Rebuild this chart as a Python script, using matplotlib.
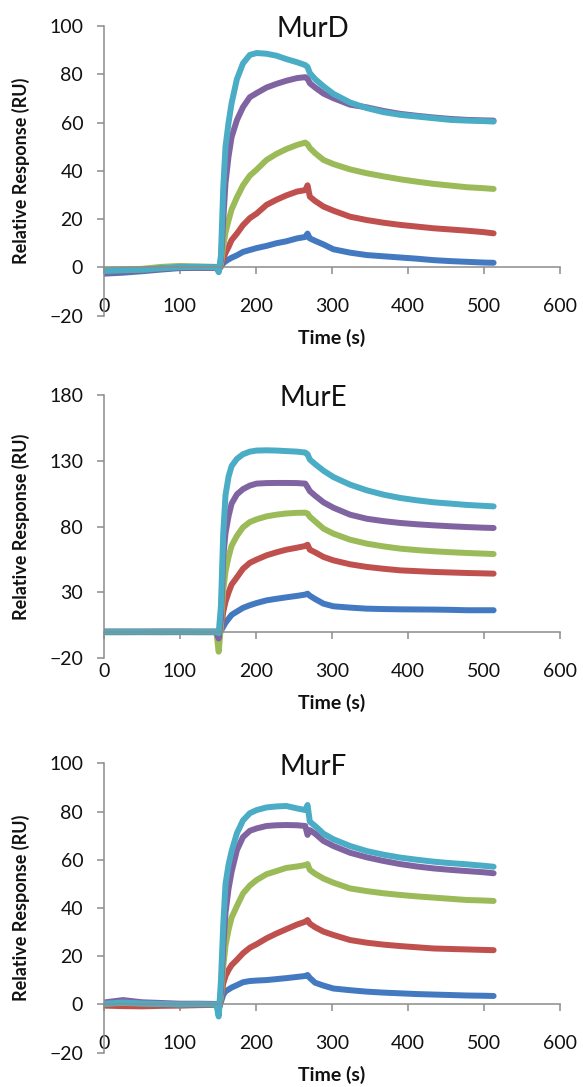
import matplotlib
matplotlib.use("Agg")
import matplotlib.pyplot as plt

plt.rcParams['font.family'] = ['Lato', 'DejaVu Sans']

# time grid (s) on which the sensorgrams were read
time_s = [0, 25, 50, 75, 100, 125, 148, 151,
          154, 157, 160, 164, 168, 175, 183, 192, 201, 214, 227, 240, 254, 265,
          268, 271, 278, 289, 302, 324, 346, 368, 390, 412, 434, 456, 478, 500, 513]

# MurD
murd_blue = [-2.6, -2.2, -1.6, -0.9, -0.3, -0.2, -0.3, -1.0,
             0.3, 1.7, 2.5, 3.3, 4.0, 5.0, 6.4, 7.2, 8.0, 8.9, 10.0, 10.8, 12.0, 12.6,
             14.0, 12.0, 11.0, 9.5, 7.5, 6.1, 5.1, 4.6, 4.1, 3.6, 3.0, 2.6, 2.3, 2.0, 1.9]
murd_red = [-2.0, -1.6, -1.2, -0.6, 0.0, 0.0, -0.2, -1.0,
            0.8, 3.7, 6.0, 8.5, 11.3, 14.0, 17.5, 20.4, 22.3, 25.9, 28.0, 29.8, 31.4, 32.0,
            34.0, 29.3, 27.5, 25.2, 23.5, 21.0, 19.6, 18.5, 17.6, 16.9, 16.2, 15.7, 15.2, 14.6, 14.1]
murd_green = [-1.0, -0.8, -0.6, 0.2, 0.6, 0.4, 0.2, -1.0,
              1.5, 8.6, 14.5, 19.5, 24.0, 29.0, 34.0, 38.0, 40.5, 44.5, 47.0, 49.0, 50.7, 51.7,
              51.0, 49.5, 47.3, 44.5, 42.8, 40.6, 39.0, 37.7, 36.5, 35.5, 34.6, 33.9, 33.2, 32.8, 32.5]
murd_purple = [-1.8, -1.4, -1.1, -0.5, 0.0, 0.1, 0.0, -1.5,
               3.0, 19.6, 35.0, 46.0, 54.0, 61.0, 66.4, 70.5, 72.2, 74.5, 76.0, 77.3, 78.4, 78.8,
               78.2, 76.3, 74.5, 72.0, 70.1, 67.4, 66.3, 64.8, 63.6, 62.8, 62.1, 61.5, 61.1, 60.9, 60.8]
murd_cyan = [-1.5, -1.2, -1.0, -0.4, 0.1, 0.2, 0.0, -2.0,
             5.0, 33.0, 50.0, 60.0, 68.0, 78.0, 84.5, 88.0, 88.8, 88.5, 87.7, 86.3, 85.0, 83.8,
             83.0, 80.5, 78.0, 75.0, 71.9, 68.3, 66.0, 64.3, 63.2, 62.5, 61.8, 61.1, 60.8, 60.6, 60.4]

# MurE
mure_blue = [0.0, 0.0, 0.0, 0.0, 0.0, 0.0, 0.0, -1.0,
             1.0, 4.0, 7.0, 10.0, 13.0, 15.5, 18.3, 20.3, 22.0, 24.0, 25.2, 26.3, 27.4, 28.4,
             29.1, 27.5, 25.0, 21.5, 19.5, 18.5, 17.7, 17.4, 17.2, 17.1, 17.0, 16.8, 16.5, 16.5, 16.5]
mure_red = [0.3, 0.3, 0.3, 0.4, 0.4, 0.3, 0.3, -2.0,
            2.0, 15.2, 23.0, 30.0, 36.0, 41.5, 48.0, 52.5, 55.0, 58.2, 60.5, 62.5, 64.0, 65.3,
            66.3, 62.5, 60.5, 57.0, 54.4, 51.4, 49.4, 48.0, 46.8, 46.2, 45.6, 45.2, 44.8, 44.5, 44.3]
mure_green = [-0.3, -0.3, -0.2, -0.3, -0.2, -0.3, -0.3, -15.0,
              5.0, 31.6, 46.0, 57.0, 65.5, 73.0, 79.5, 83.5, 85.6, 87.8, 89.1, 90.0, 90.5, 90.6,
              90.0, 87.5, 84.0, 78.5, 74.7, 70.1, 67.1, 65.0, 63.3, 62.2, 61.3, 60.6, 60.0, 59.5, 59.2]
mure_purple = [0.0, 0.0, 0.0, 0.0, 0.0, 0.0, 0.0, -5.0,
               10.0, 57.0, 75.0, 88.0, 97.5, 104.5, 108.5, 111.2, 112.7, 113.1, 113.2, 113.2, 113.1, 112.7,
               110.0, 107.0, 103.5, 98.5, 94.4, 89.1, 86.0, 84.2, 82.8, 81.8, 81.0, 80.3, 79.7, 79.2, 79.0]
mure_cyan = [0.2, 0.2, 0.2, 0.2, 0.2, 0.2, 0.2, -1.0,
             20.0, 75.0, 104.0, 118.0, 126.0, 131.5, 135.0, 137.0, 137.8, 138.0, 137.8, 137.4, 137.0, 136.3,
             135.0, 131.0, 127.5, 122.5, 117.7, 111.9, 107.6, 104.3, 101.8, 100.0, 98.5, 97.5, 96.5, 95.8, 95.4]

# MurF
murf_blue = [0.2, 0.5, 0.2, 0.0, 0.0, -0.1, 0.0, -2.0,
             1.0, 4.0, 5.4, 6.2, 7.0, 8.0, 9.2, 9.7, 9.9, 10.1, 10.5, 10.9, 11.4, 11.8,
             12.2, 11.0, 9.0, 7.8, 6.6, 5.9, 5.3, 4.9, 4.6, 4.3, 4.1, 3.9, 3.7, 3.6, 3.5]
murf_red = [-0.5, -0.7, -0.8, -0.6, -0.5, -0.3, -0.2, -2.0,
            2.0, 8.7, 11.8, 14.3, 16.3, 18.5, 21.2, 23.5, 25.0, 27.4, 29.4, 31.2, 33.1, 34.3,
            35.0, 33.5, 32.0, 30.2, 28.8, 26.7, 25.6, 24.8, 24.2, 23.7, 23.2, 23.0, 22.8, 22.6, 22.5]
murf_green = [0.3, 0.6, 0.4, 0.2, 0.1, 0.2, 0.1, -2.0,
              3.0, 15.6, 24.5, 31.0, 36.0, 40.8, 46.0, 49.3, 51.6, 54.0, 55.3, 56.6, 57.2, 57.8,
              58.2, 55.8, 54.2, 52.2, 50.5, 48.1, 47.0, 46.1, 45.4, 44.8, 44.3, 43.8, 43.3, 43.1, 42.9]
murf_purple = [0.8, 1.8, 0.9, 0.6, 0.3, 0.3, 0.2, -2.5,
               5.0, 24.0, 38.0, 48.0, 55.0, 64.0, 69.4, 72.0, 73.0, 74.0, 74.3, 74.4, 74.3, 74.0,
               70.3, 72.3, 70.8, 67.8, 65.7, 62.9, 61.0, 59.5, 58.2, 57.2, 56.4, 55.8, 55.3, 54.8, 54.4]
murf_cyan = [0.3, 0.8, 0.4, 0.2, 0.0, 0.1, 0.0, -5.0,
             10.0, 33.0, 50.0, 58.0, 63.5, 71.0, 76.3, 79.3, 80.6, 81.7, 82.1, 82.3, 81.3, 80.6,
             82.7, 75.8, 74.0, 70.8, 68.5, 65.7, 63.6, 62.1, 60.9, 60.0, 59.2, 58.6, 58.1, 57.5, 57.1]

colors = ["#4379C0", "#C0504D", "#9BBB59", "#8064A2", "#4BACC6"]
gray = "#8C8C8C"

panels = [
    ("MurD", [murd_blue, murd_red, murd_green, murd_purple, murd_cyan], (-20, 100), [-20, 0, 20, 40, 60, 80, 100]),
    ("MurE", [mure_blue, mure_red, mure_green, mure_purple, mure_cyan], (-20, 180), [-20, 30, 80, 130, 180]),
    ("MurF", [murf_blue, murf_red, murf_green, murf_purple, murf_cyan], (-20, 100), [-20, 0, 20, 40, 60, 80, 100]),
]

# axes boxes in figure fraction: left, bottom, width, height
boxes = [
    [0.1784, 0.7096, 0.7816, 0.2665],
    [0.1784, 0.3944, 0.7816, 0.2422],
    [0.1784, 0.0316, 0.7816, 0.2662],
]

fig = plt.figure(figsize=(5.83, 10.87), dpi=100)

for (name, series, ylim, yticks), box in zip(panels, boxes):
    ax = fig.add_axes(box)
    for vals, col in zip(series, colors):
        ax.plot(time_s, vals, color=col, lw=4.3, solid_capstyle='round', solid_joinstyle='round')
    ax.set_xlim(0, 600)
    ax.set_ylim(*ylim)
    ax.set_yticks(yticks)
    ax.set_xticks(range(0, 601, 100))
    ax.set_yticklabels([str(v).replace('-', '\u2212') for v in yticks])

    for s in ['top', 'right']:
        ax.spines[s].set_visible(False)
    ax.spines['bottom'].set_position(('data', 0))
    for s in ['left', 'bottom']:
        ax.spines[s].set_color(gray)
        ax.spines[s].set_linewidth(1.1)
    ax.tick_params(axis='both', direction='out', length=5, width=1.1, color=gray,
                   labelsize=14, labelcolor='#111111')
    ax.tick_params(axis='y', pad=10)
    ax.tick_params(axis='x', pad=17)

    ax.annotate(name, xy=(0.459, 1.0), xycoords='axes fraction', xytext=(0, -2.5),
                textcoords='offset points', ha='center', va='center', fontsize=20, color='#111111')
    ax.annotate("Time (s)", xy=(0.5, 0), xycoords=('axes fraction', 'data'), xytext=(0, -51),
                textcoords='offset points', ha='center', va='center', fontsize=14,
                fontweight='bold', color='#111111')
    ax.annotate("Relative Response (RU)", xy=(0, 0.5), xycoords='axes fraction', xytext=(-60, 0),
                textcoords='offset points', ha='center', va='center', rotation=90,
                fontsize=13, fontweight='bold', color='#111111')

fig.savefig("out.png", dpi=100)
